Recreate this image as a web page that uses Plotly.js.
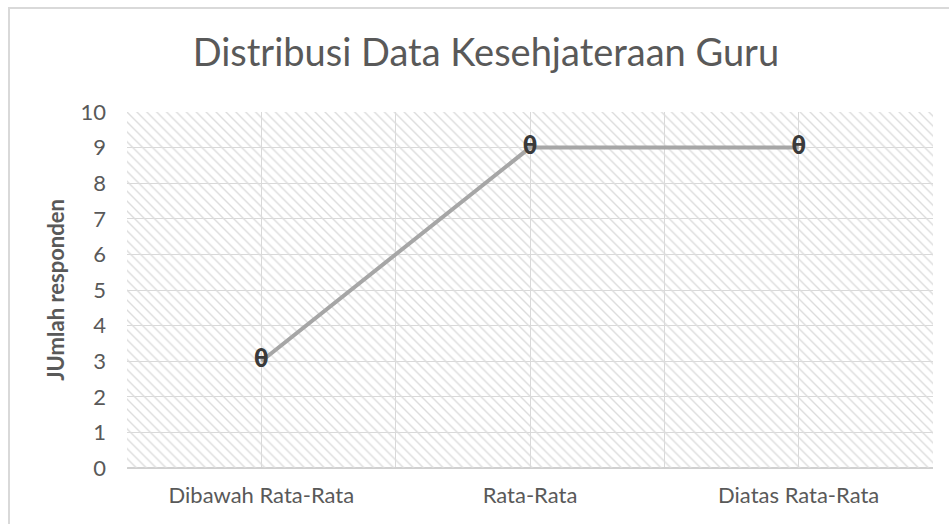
<!DOCTYPE html>
<html>
<head>
<meta charset="utf-8">
<script src="https://cdn.plot.ly/plotly-3.0.1.min.js"></script>
<style>
html,body{margin:0;padding:0;background:#fff;}
#wrap{position:relative;width:949px;height:524px;overflow:hidden;}
#chart{position:absolute;left:0;top:0;width:949px;height:524px;}
#frame{position:absolute;left:8px;top:7px;width:960px;height:540px;border-left:2px solid #d9d9d9;border-top:2px solid #d9d9d9;pointer-events:none;}
</style>
</head>
<body>
<div id="wrap"><div id="chart"></div><div id="frame"></div></div>
<script>
const categories = ["Dibawah Rata-Rata", "Rata-Rata", "Diatas Rata-Rata"];
const values = [3, 9, 9];
const markerLabels = ["θ", "θ", "θ"];
const yTicks = [0,1,2,3,4,5,6,7,8,9,10];
const yMax = 10;

const idx = categories.map((c, i) => i);
const font = "Lato, 'Open Sans', sans-serif";

const hatch = {
  type: "bar",
  x: [(categories.length - 1) / 2],
  y: [yMax],
  base: [0],
  width: [categories.length],
  marker: {
    color: "rgba(0,0,0,0)",
    line: {width: 0},
    pattern: {shape: "\\", fgcolor: "#dcdcdc", bgcolor: "rgba(0,0,0,0)", size: 7, solidity: 0.2}
  },
  hoverinfo: "skip",
  showlegend: false
};

const line = {
  type: "scatter",
  mode: "lines+text",
  x: idx,
  y: values,
  text: markerLabels,
  textposition: "middle center",
  textfont: {family: "'DejaVu Sans Mono', monospace", size: 25, weight: "bold", color: "#3a3a3a"},
  line: {color: "#a6a6a6", width: 4},
  showlegend: false
};

const layout = {
  width: 949, height: 524,
  margin: {l: 127, r: 16, t: 112, b: 56},
  paper_bgcolor: "#fff",
  plot_bgcolor: "#fff",
  title: {
    text: "Distribusi Data Kesehjateraan Guru",
    font: {family: font, size: 38, color: "#595959"},
    x: 0.512, xanchor: "center", y: 0.9, yanchor: "middle"
  },
  xaxis: {
    type: "linear",
    range: [-0.5, categories.length - 0.5],
    tickvals: idx,
    ticktext: categories,
    showgrid: true, gridcolor: "#d9d9d9", gridwidth: 1,
    minor: {tick0: -0.5, dtick: 1, showgrid: true, gridcolor: "#d9d9d9", gridwidth: 1},
    zeroline: false,
    showline: false,
    ticks: "",
    ticklabelstandoff: 12,
    tickfont: {family: font, size: 22, color: "#595959"},
    fixedrange: true
  },
  yaxis: {
    range: [0, yMax],
    tickvals: yTicks,
    showgrid: true, gridcolor: "#d9d9d9", gridwidth: 1,
    zeroline: true, zerolinecolor: "#d0d0d0", zerolinewidth: 1.5,
    showline: false,
    ticks: "",
    ticklabelstandoff: 20,
    tickfont: {family: font, size: 22, color: "#595959"},
    title: {text: "<b>JUmlah responden</b>", font: {family: font, size: 22, color: "#595959"}, standoff: 9},
    fixedrange: true
  },
  bargap: 0
};

Plotly.newPlot("chart", [hatch, line], layout, {displayModeBar: false, staticPlot: true});
</script>
</body>
</html>
